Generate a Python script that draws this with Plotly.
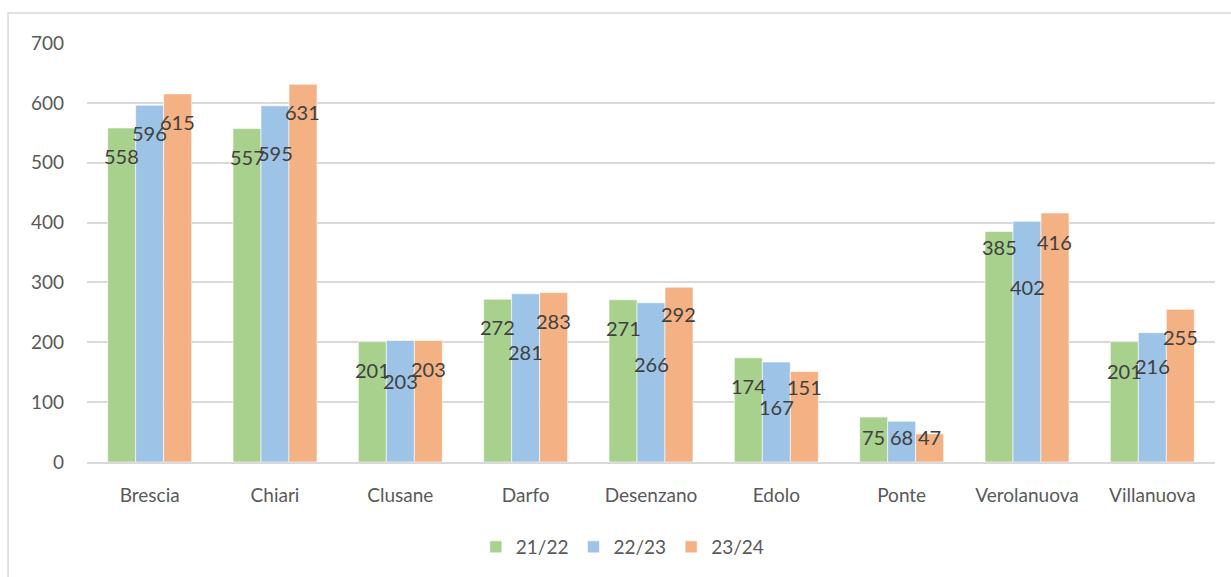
import plotly.graph_objects as go

CATEGORIES = ['Brescia', 'Chiari', 'Clusane', 'Darfo', 'Desenzano', 'Edolo',
              'Ponte', 'Verolanuova', 'Villanuova']
SERIES = ['21/22', '22/23', '23/24']
V_2122 = [558, 557, 201, 272, 271, 174, 75, 385, 201]
V_2223 = [596, 595, 203, 281, 266, 167, 68, 402, 216]
V_2324 = [615, 631, 203, 283, 292, 151, 47, 416, 255]
Y_TICKS = [0, 100, 200, 300, 400, 500, 600, 700]

# how far (px) each data label sits below the top of its bar, as placed in the original
LABEL_DROP = [
    [28, 28, 28, 28, 28, 28, 20, 15, 29],
    [28, 47, 41, 58, 61, 45, 16, 66, 33],
    [28, 28, 29, 28, 27, 15, 3, 29, 28],
]

C = {
    'bars': ['#A9D18E', '#9DC3E6', '#F4B183'],
    'grid': '#D9D9D9',
    'tick': '#595959',
    'label': '#404040',
}
FONT = 'Lato, Calibri, sans-serif'
BARGAP = 0.33

fig = go.Figure()
values = [V_2122, V_2223, V_2324]
for name, vals, col in zip(SERIES, values, C['bars']):
    fig.add_trace(go.Bar(
        x=CATEGORIES, y=vals, name=name,
        marker=dict(color=col, line=dict(color='white', width=0.6)),
        hovertemplate='%{x}: %{y}<extra>' + name + '</extra>',
    ))

# data labels, centred on each bar
w = (1 - BARGAP) / len(SERIES)
for k, vals in enumerate(values):
    for i, v in enumerate(vals):
        fig.add_annotation(
            x=i + (k - 1) * w, y=v, xref='x', yref='y',
            text=str(v), showarrow=False, yanchor='middle',
            yshift=-LABEL_DROP[k][i],
            font=dict(family=FONT, size=20, color=C['label']),
        )

# chart-area border
fig.add_shape(type='rect', xref='paper', yref='paper',
              x0=-0.070, x1=1.03, y0=-0.35, y1=1.0714,
              line=dict(color=C['grid'], width=1.5), fillcolor='rgba(0,0,0,0)',
              layer='below')

fig.update_layout(
    width=1231, height=577,
    paper_bgcolor='white', plot_bgcolor='white',
    font=dict(family=FONT, size=19, color=C['tick']),
    margin=dict(l=87, r=16, t=43, b=114),
    barmode='group', bargap=BARGAP, bargroupgap=0,
    legend=dict(orientation='h', x=0.475, xanchor='center', y=-0.2, yanchor='middle',
                font=dict(size=19, color=C['tick']), itemwidth=30,
                traceorder='normal'),
    xaxis=dict(showgrid=False, showline=True, linecolor=C['grid'], linewidth=1.5,
               ticks='', tickfont=dict(size=19, color=C['tick']), ticklabelstandoff=15),
    yaxis=dict(range=[0, 700], tickvals=Y_TICKS, showgrid=True, gridcolor=C['grid'],
               gridwidth=1.5, zeroline=False, showline=False, ticks='',
               tickfont=dict(size=19, color=C['tick']), ticklabelstandoff=22),
)

fig.write_html('out.html', config={'displayModeBar': False},
               post_script="document.body.style.margin='0';document.body.style.overflow='hidden';")
